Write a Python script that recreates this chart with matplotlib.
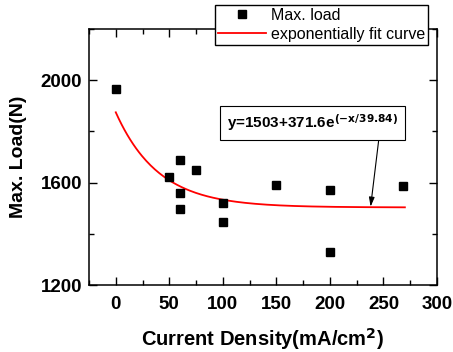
import numpy as np
import matplotlib as mpl
mpl.use('Agg')
import matplotlib.pyplot as plt
from matplotlib.ticker import MultipleLocator

mpl.rcParams.update({'font.family': ['Liberation Sans', 'DejaVu Sans'], 'font.weight': 'bold',
                     'mathtext.default': 'regular', 'axes.unicode_minus': False})

# measured points
current_density = [0, 50, 60, 60, 60, 75, 100, 100, 150, 200, 200, 268]
max_load = [1964, 1623, 1689, 1561, 1496, 1648, 1519, 1447, 1589, 1570, 1329, 1587]

# exponential fit parameters, as printed on the chart
y0, A, t = 1503, 371.6, 39.84
fit_x = np.linspace(0, 270, 200)
fit_y = y0 + A * np.exp(-fit_x / t)

fig = plt.figure(figsize=(4.53, 3.52), dpi=100, facecolor='white')
ax = fig.add_axes([89/453, 1 - 285/352, (437-89)/453, (285-29)/352])

ax.plot(current_density, max_load, 's', color='black', ms=5.5, label='Max. load', zorder=3)
ax.plot(fit_x, fit_y, '-', color='red', lw=1.3, label='exponentially fit curve', zorder=2)

ax.set_xlim(-25, 300); ax.set_ylim(1200, 2200)
ax.xaxis.set_major_locator(MultipleLocator(50)); ax.xaxis.set_minor_locator(MultipleLocator(25))
ax.yaxis.set_major_locator(MultipleLocator(400)); ax.yaxis.set_minor_locator(MultipleLocator(200))
ax.tick_params(which='both', direction='in', top=True, right=True, width=1)
ax.tick_params(which='major', length=6, labelsize=13.5, pad=5)
ax.tick_params(which='minor', length=3.5)
ax.tick_params(axis='x', which='major', pad=8)
for s in ax.spines.values():
    s.set_linewidth(1.1)

ax.set_xlabel('Current Density(mA/cm$^{\\mathbf{2}}$)', fontsize=14.5, fontweight='bold', labelpad=9)
ax.set_ylabel('Max. Load(N)', fontsize=14, fontweight='bold', labelpad=10)

leg = ax.legend(loc='upper right', bbox_to_anchor=(0.975, 1.095), frameon=True,
                prop={'size': 11.5, 'weight': 'normal'},
                fancybox=False, edgecolor='black', framealpha=1, borderpad=0.2,
                handlelength=3.0, handletextpad=0.3, labelspacing=0.25, borderaxespad=0)
leg.get_frame().set_linewidth(1)
leg.set_zorder(10)

ax.annotate('y=1503+371.6e$^{\\mathbf{(-x/39.84)}}$', xy=(238, 1506), xytext=(184, 1833),
            fontsize=11, fontweight='bold', ha='center', va='center',
            bbox=dict(boxstyle='square,pad=0.45', fc='white', ec='black', lw=0.8),
            arrowprops=dict(arrowstyle='-|>,head_length=0.5,head_width=0.15', color='black',
                            lw=0.8, shrinkA=0, shrinkB=0, relpos=(0.89, 0)))

fig.savefig('out.png', dpi=100, facecolor='white')
